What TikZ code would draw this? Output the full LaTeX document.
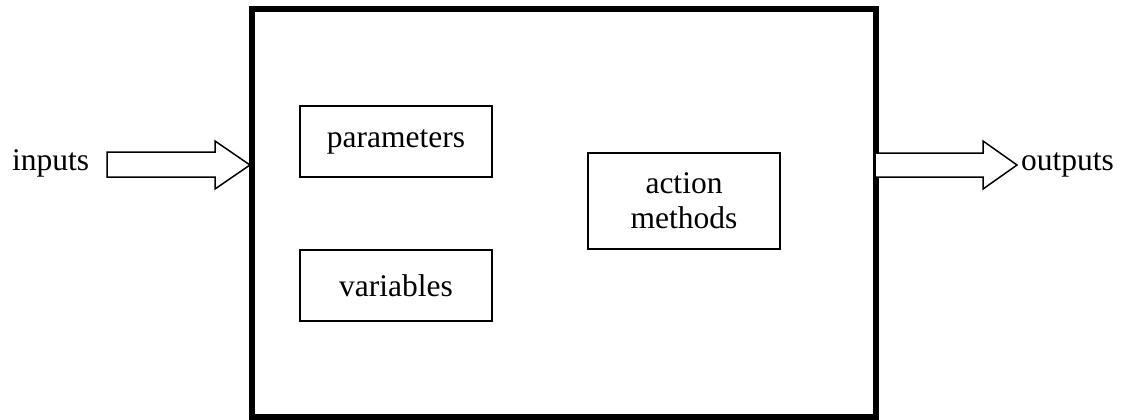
\documentclass[tikz,border=0pt]{standalone}
\usepackage{fontspec}
\setmainfont{Liberation Serif}
\begin{document}
\begin{tikzpicture}[x=1pt,y=-1pt,
  every node/.style={font=\fontsize{31.5}{35}\selectfont, inner sep=0pt},
  part/.style={draw, line width=2pt, rectangle, align=center},
  blockarrow/.style={draw, line width=1.5pt, fill=white, line join=miter},
  outer/.style={draw, line width=6pt, line join=miter}]
\useasboundingbox (0,0) rectangle (1122,420);

% enclosing object
\draw[outer] (252,9) rectangle (876,417);
\coordinate (inedge) at (250,165);
\coordinate (outedge) at (876,165);

% internal parts
\node[part, minimum width=192pt, minimum height=71pt] (param) at (396,141.5) {parameters};
\node[part, minimum width=192pt, minimum height=71pt] (vars) at (396,285.5) {variables};
\node[part, minimum width=192pt, minimum height=96pt] (action) at (684,201) {action\\methods};

% input block arrow
\draw[blockarrow] (107,152) -- (215,152) -- (215,141) -- (inedge) -- (215,189)
  -- (215,177) -- (107,177) -- cycle;
\node[anchor=base west] (inlbl) at (12,170) {inputs};

% output block arrow
\draw[blockarrow] (outedge) ++(0,-12) -- (983,153) -- (983,141) -- (1017,165)
  -- (983,189) -- (983,177) -- (876,177);
\node[anchor=base west] (outlbl) at (1021,170) {outputs};
\end{tikzpicture}
\end{document}
